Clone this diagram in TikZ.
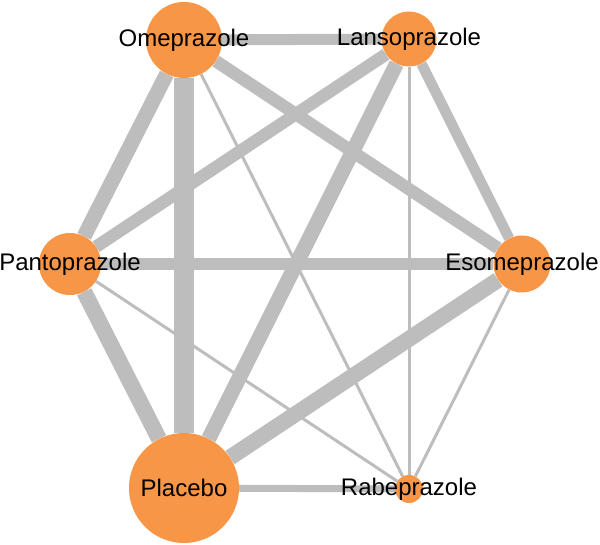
\documentclass[tikz,border=0pt]{standalone}
\usepackage{fontspec}
\setmainfont{Liberation Sans}
\usetikzlibrary{backgrounds}
\definecolor{drug}{RGB}{247,150,70}
\definecolor{edgegray}{RGB}{189,189,189}
\begin{document}
\begin{tikzpicture}[x=1pt,y=-1pt,
  drugnode/.style={circle,fill=drug,draw=none,inner sep=0pt,
    label={[font=\fontsize{24}{28}\selectfont,text=black,inner sep=0pt]center:#1}},
  link/.style={draw=edgegray,line width=#1}]
\useasboundingbox (0,0) rectangle (600,545);
\node[drugnode=Omeprazole,minimum size=76pt] (ome) at (184,40) {};
\node[drugnode=Lansoprazole,minimum size=55pt] (lan) at (409,39) {};
\node[drugnode=Esomeprazole,minimum size=57pt] (eso) at (522,264) {};
\node[drugnode=Pantoprazole,minimum size=62pt] (pan) at (70,264) {};
\node[drugnode=Placebo,minimum size=110pt] (pla) at (184,488) {};
\node[drugnode=Rabeprazole,minimum size=28pt] (rab) at (409,489) {};
\begin{scope}[on background layer]
\draw[link=11pt] (ome) -- (lan);
\draw[link=20pt] (ome) -- (pla);
\draw[link=15pt] (ome) -- (pan);
\draw[link=12.5pt] (ome) -- (eso);
\draw[link=3pt] (ome) -- (rab);
\draw[link=12.5pt] (lan) -- (pan);
\draw[link=15pt] (lan) -- (pla);
\draw[link=3pt] (lan) -- (rab);
\draw[link=10.5pt] (lan) -- (eso);
\draw[link=12pt] (pan) -- (eso);
\draw[link=16pt] (pan) -- (pla);
\draw[link=3pt] (pan) -- (rab);
\draw[link=16pt] (eso) -- (pla);
\draw[link=3pt] (eso) -- (rab);
\draw[link=7pt] (pla) -- (rab);
\end{scope}
\end{tikzpicture}
\end{document}
